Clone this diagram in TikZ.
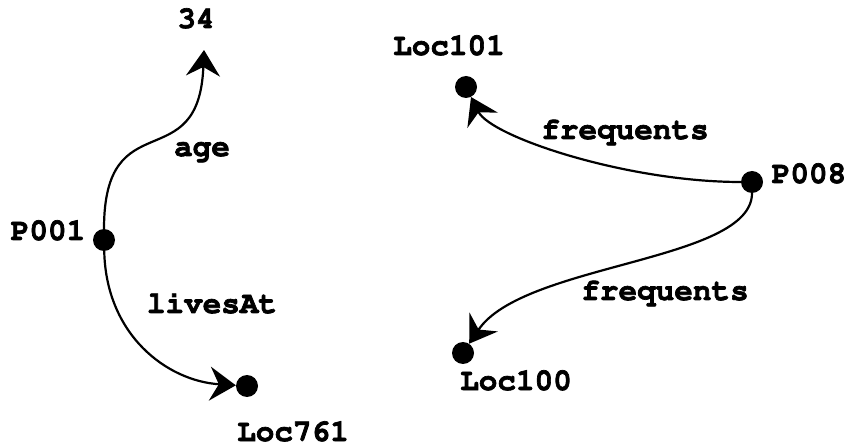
\documentclass[tikz,border=0pt]{standalone}
\usepackage[T1]{fontenc}
\usepackage{courier}
\usetikzlibrary{arrows.meta}
\newcommand{\heavytxt}[1]{\special{pdf:literal direct 2 Tr 0.7 w}#1\special{pdf:literal direct 0 Tr}}
\begin{document}
\begin{tikzpicture}[x=1pt,y=-1pt,
  dot/.style={circle,fill=black,inner sep=0pt,minimum size=22pt},
  lbl/.style={anchor=base,inner sep=0pt,font=\fontsize{31}{31}\selectfont\ttfamily\bfseries},
  conn/.style={line width=2.2pt,-{Stealth[length=26pt,width=34pt,inset=9pt]}}]
\useasboundingbox (0,0) rectangle (849,446);
% dots
\node[dot] (p001) at (104,240) {};
\node[dot] (loc761) at (247,386) {};
\node[dot] (p008) at (752,182) {};
\node[dot] (loc101) at (466,87) {};
\node[dot] (loc100) at (463,353) {};
\coordinate (c34) at (204,50);
% labels
\node[lbl] (t34) at (196,28) {\heavytxt{34}};
\node[lbl] (tp001) at (48,240) {\heavytxt{P001}};
\node[lbl] (tloc761) at (293,441) {\heavytxt{Loc761}};
\node[lbl] (tloc101) at (449,55) {\heavytxt{Loc101}};
\node[lbl] (tp008) at (809,183) {\heavytxt{P008}};
\node[lbl] (tloc100) at (516,390) {\heavytxt{Loc100}};
\node[lbl] (tage) at (202,156) {\heavytxt{age}};
\node[lbl] (tlives) at (212,313) {\heavytxt{livesAt}};
\node[lbl] (tfreq1) at (625,139) {\heavytxt{frequents}};
\node[lbl] (tfreq2) at (665,300) {\heavytxt{frequents}};
% connectors
\draw[conn] (p001) .. controls +(0,-140) and +(-5,130) .. (c34);
\draw[conn] (p001) .. controls +(2,95) and +(-80,-5) .. (loc761);
\draw[conn] (p008) .. controls +(-125,0) and +(25,50) .. (loc101);
\draw[conn] (p008) .. controls +(0,80) and +(60,-90) .. (loc100);
\end{tikzpicture}
\end{document}
